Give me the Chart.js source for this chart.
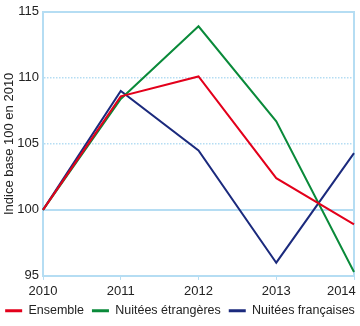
<!DOCTYPE html>
<html lang="fr">
<head>
<meta charset="utf-8">
<title>Indice base 100 en 2010</title>
<script src="https://cdn.jsdelivr.net/npm/chart.js@4/dist/chart.umd.min.js"></script>
<style>
  html, body { margin: 0; padding: 0; background: #fff; overflow: hidden; }
  #wrap { width: 360px; height: 326px; }
</style>
</head>
<body>
<div id="wrap"><canvas id="chart"></canvas></div>
<script>
const years = ['2010', '2011', '2012', '2013', '2014'];
const ensemble = [100, 108.6, 110.1, 102.4, 98.9];
const etrangeres = [100, 108.4, 113.9, 106.7, 95.3];
const francaises = [100, 109.0, 104.5, 96.0, 104.3];
const yTicks = [95, 100, 105, 110, 115];

const lightBlue = '#b5ddf3';
const textColor = '#222';
const font = 'Liberation Sans, Arial, Helvetica, sans-serif';

new Chart(document.getElementById('chart'), {
    type: 'line',
    data: {
        labels: years,
        datasets: [
            { label: 'Ensemble', data: ensemble, borderColor: '#e3001b', backgroundColor: '#e3001b' },
            { label: 'Nuitées étrangères', data: etrangeres, borderColor: '#0a8a3a', backgroundColor: '#0a8a3a' },
            { label: 'Nuitées françaises', data: francaises, borderColor: '#1b2a7d', backgroundColor: '#1b2a7d' }
        ]
    },
    options: {
        responsive: true,
        maintainAspectRatio: false,
        animation: false,
        elements: {
            line: { borderWidth: 2, tension: 0 },
            point: { radius: 0 }
        },
        layout: { padding: { left: 0, right: 0, top: 6, bottom: -1 } },
        plugins: {
            tooltip: { enabled: false },
            legend: {
                position: 'bottom',
                labels: {
                    usePointStyle: true,
                    pointStyle: 'line',
                    pointStyleWidth: 17,
                    padding: 1,
                    color: textColor,
                    font: { family: font, size: 12.5 },
                    generateLabels: chart => {
                        const items = Chart.defaults.plugins.legend.labels.generateLabels(chart);
                        items.forEach((it, i) => {
                            it.lineWidth = 3;
                            // a bit of room between the entries
                            if (i < items.length - 1) it.text += '\u00a0\u00a0';
                        });
                        return items;
                    }
                }
            }
        },
        scales: {
            x: {
                offset: false,
                grid: { drawOnChartArea: false, drawTicks: true, tickLength: 4, tickColor: lightBlue, tickWidth: 1 },
                border: { color: lightBlue, width: 2 },
                ticks: {
                    color: textColor,
                    padding: 4,
                    maxRotation: 0,
                    autoSkip: false,
                    font: { family: font, size: 13 },
                    // last label sits flush with the right edge
                    callback: (v, i) => i === years.length - 1 ? years[i] + '\u00a0\u00a0\u00a0\u00a0\u00a0\u00a0\u00a0' : years[i]
                },
                afterFit: s => { s.paddingLeft = 0; s.paddingRight = 0; }
            },
            y: {
                min: 95,
                max: 115,
                afterBuildTicks: s => { s.ticks = yTicks.map(v => ({ value: v })); },
                grid: {
                    drawTicks: false,
                    color: c => (c.tick && (c.tick.value === 105 || c.tick.value === 110)) ? lightBlue : 'transparent',
                    lineWidth: 1.5
                },
                border: { color: lightBlue, width: 2, dash: [1.5, 1.5] },
                ticks: { color: textColor, padding: 4, font: { family: font, size: 13 } },
                title: {
                    display: true,
                    text: 'Indice base 100 en 2010',
                    color: textColor,
                    padding: { top: 2, bottom: 0 },
                    font: { family: font, size: 13 }
                },
                afterFit: s => { s.width = 43; }
            },
            y2: {
                position: 'right',
                min: 95,
                max: 115,
                afterBuildTicks: s => { s.ticks = [100, 115].map(v => ({ value: v })); },
                grid: { drawTicks: false, color: lightBlue, lineWidth: 2 },
                border: { color: lightBlue, width: 2 },
                ticks: { display: false },
                afterFit: s => { s.width = 6; }
            }
        }
    }
});
</script>
</body>
</html>
